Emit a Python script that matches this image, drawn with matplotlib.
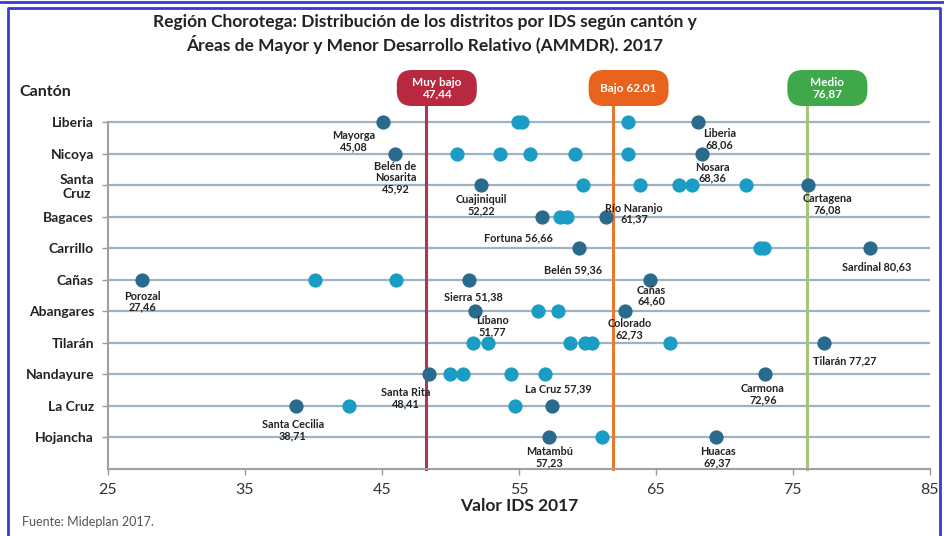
import matplotlib
matplotlib.use("Agg")
import matplotlib.pyplot as plt
from matplotlib.patches import FancyBboxPatch
from matplotlib.lines import Line2D

plt.rcParams["font.family"] = ["Lato", "DejaVu Sans"]

# cantones (top to bottom)
cantones = ["Liberia", "Nicoya", "Santa\nCruz", "Bagaces", "Carrillo", "Cañas",
            "Abangares", "Tilarán", "Nandayure", "La Cruz", "Hojancha"]

# unlabelled districts: IDS 2017 by canton
otros_ids = [
    [54.9, 55.2, 63.0],
    [50.5, 53.6, 55.8, 59.1, 63.0],
    [59.7, 63.85, 66.7, 67.6, 71.55],
    [58.0, 58.5],
    [72.6, 72.9],
    [40.1, 46.0],
    [56.4, 57.85],
    [51.65, 52.75, 58.75, 59.85, 60.3, 66.0],
    [50.0, 50.95, 54.45, 56.9],
    [42.6, 54.7],
    [61.05],
]

# labelled districts (canton index, name, IDS)
etiq_canton = [0, 0, 1, 1, 2, 2, 3, 3, 4, 4, 5, 5, 5, 6, 6, 7, 8, 9, 8, 9, 10, 10]
etiq_nombre = ["Mayorga", "Liberia", "Belén de\nNosarita", "Nosara", "Cuajiniquil",
               "Cartagena", "Fortuna", "Río Naranjo", "Belén", "Sardinal", "Porozal",
               "Sierra", "Cañas", "Líbano", "Colorado", "Tilarán", "Santa Rita",
               "La Cruz", "Carmona", "Santa Cecilia", "Matambú", "Huacas"]
etiq_ids = [45.08, 68.06, 45.92, 68.36, 52.22, 76.08, 56.66, 61.37, 59.36, 80.63, 27.46,
            51.38, 64.60, 51.77, 62.73, 77.27, 48.41, 57.39, 72.96, 38.71, 57.23, 69.37]
# one-line labels ("Fortuna 56,66") vs two-line labels
etiq_una_linea = ["Fortuna", "Belén", "Sardinal", "Sierra", "Tilarán", "La Cruz"]

# thresholds: label text and where the line is drawn
umbral_texto = ["Muy bajo\n47,44", "Bajo 62.01", "Medio\n76,87"]
umbral_x = [48.2, 61.85, 76.0]
umbral_color = ["#b8283e", "#e8641e", "#3ea84a"]
umbral_linea = ["#a83a4e", "#e8782e", "#a8c47a"]

x_ticks = [25, 35, 45, 55, 65, 75, 85]

# label offsets in pixels (dx, dy down)
offsets = {
    "Mayorga": (-29, 19), "Liberia": (22, 17), "Belén de\nNosarita": (1, 24),
    "Nosara": (11, 19), "Cuajiniquil": (0, 20), "Cartagena": (20, 19),
    "Río Naranjo": (28, -3), "Fortuna": (-23, 21), "Belén": (-6, 22),
    "Sardinal": (7, 19), "Porozal": (1, 22), "Sierra": (4, 17), "Cañas": (1, 16),
    "Líbano": (18, 15), "Colorado": (5, 18), "Tilarán": (21, 18),
    "Santa Rita": (-23, 24), "La Cruz": (7, -17), "Carmona": (-2, 20),
    "Santa Cecilia": (-3, 24), "Matambú": (0, 20), "Huacas": (2, 20),
}

CYAN = "#1a9cc4"
DARK = "#2a6a8c"
GRID = "#9fb2c1"
TXT = "#222222"

fig = plt.figure(figsize=(9.44, 5.36), dpi=100)
fig.patch.set_facecolor("white")
ax = fig.add_axes([0.1144, 0.125, 0.985 - 0.1144, 0.8134 - 0.125])

for i, c in enumerate(cantones):
    ax.axhline(i, color=GRID, lw=1.6, zorder=1)

for i, vals in enumerate(otros_ids):
    ax.scatter(vals, [i] * len(vals), s=105, color=CYAN, zorder=3, linewidths=0)

ax.scatter(etiq_ids, etiq_canton, s=105, color=DARK, zorder=4, linewidths=0)

for n, v, r in zip(etiq_nombre, etiq_ids, etiq_canton):
    val = f"{v:.2f}".replace(".", ",")
    txt = f"{n} {val}" if n in etiq_una_linea else f"{n}\n{val}"
    dx, dy = offsets[n]
    ax.annotate(txt, (v, r), xytext=(dx, -dy), textcoords="offset pixels",
                ha="center", va="center", fontsize=7.8, fontweight="bold",
                color=TXT, linespacing=1.0, zorder=5)

# threshold lines + rounded labels
for x, lc in zip(umbral_x, umbral_linea):
    ax.plot([x, x], [11, -0.55], color=lc, lw=2.2, zorder=2, clip_on=False)

fig.canvas.draw()
W, H = fig.get_size_inches() * fig.dpi
for x, t, fc in zip(umbral_x, umbral_texto, umbral_color):
    px = ax.transData.transform((x, 0))[0] / W
    bw, bh = 80 / W, 36 / H
    cy = 1 - 88 / H
    box = FancyBboxPatch((px - bw / 2, cy - bh / 2), bw, bh,
                         boxstyle="round,pad=0,rounding_size=0.016",
                         mutation_aspect=W / H, transform=fig.transFigure,
                         facecolor=fc, edgecolor="none", zorder=6)
    fig.patches.append(box)
    fig.text(px, cy, t, ha="center", va="center", color="white", fontsize=8.5,
             fontweight="bold", linespacing=1.05, zorder=7)

ax.set_xlim(25, 85)
ax.set_ylim(11, -0.7)
ax.set_xticks(x_ticks)
ax.set_xticklabels([str(t) for t in x_ticks], fontsize=11.5, color="#333333")
ax.set_yticks(range(len(cantones)))
ax.set_yticklabels(cantones, fontsize=10, fontweight="bold", color=TXT,
                   multialignment="center")
ax.tick_params(axis="both", length=4, color="#999999", width=1)
ax.tick_params(axis="y", pad=6)
ax.tick_params(axis="x", pad=6)
for s in ["top", "right"]:
    ax.spines[s].set_visible(False)
ax.spines["left"].set_bounds(0, 11)
for s in ["left", "bottom"]:
    ax.spines[s].set_color("#a0a0a0")
    ax.spines[s].set_linewidth(1.5)
ax.set_facecolor("white")

ax.set_xlabel("Valor IDS 2017", fontsize=12.5, fontweight="bold", color=TXT, labelpad=1)

fig.text(0.021, 1 - 92 / H, "Cantón", fontsize=11.5, fontweight="bold", color=TXT,
         va="center", ha="left")
fig.text(0.45, 1 - 22 / H, "Región Chorotega: Distribución de los distritos por IDS según cantón y",
         fontsize=12.5, fontweight="bold", color=TXT, ha="center", va="center")
fig.text(0.45, 1 - 44 / H, "Áreas de Mayor y Menor Desarrollo Relativo (AMMDR). 2017",
         fontsize=12.5, fontweight="bold", color=TXT, ha="center", va="center")
fig.text(0.023, 1 - 522 / H, "Fuente: Mideplan 2017.", fontsize=9, color="#555555",
         va="center", ha="left")

# blue frame
blue = "#3a3ad8"
fig.add_artist(Line2D([0, 1], [1 - 1.5 / H] * 2, color=blue, lw=2, transform=fig.transFigure))
fig.add_artist(Line2D([7.5 / W, 7.5 / W, 940 / W, 940 / W], [0, 1 - 7.5 / H, 1 - 7.5 / H, 0],
                      color=blue, lw=2, transform=fig.transFigure))

fig.savefig("out.png", dpi=100, facecolor="white")
